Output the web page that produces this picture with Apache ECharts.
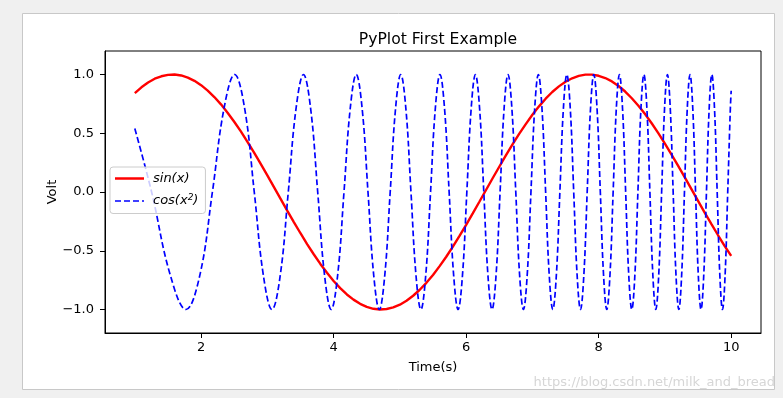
<!DOCTYPE html>
<html><head><meta charset="utf-8">
<script src="https://cdn.jsdelivr.net/npm/echarts@6/dist/echarts.min.js"></script>
<style>html,body{margin:0;padding:0;background:#f0f0f0;}#c{width:783px;height:398px;}</style>
</head><body><div id="c"></div>
<script>
// sin(x)
const sinX = [1.0,1.1,1.2,1.3,1.4,1.5,1.6,1.7,1.8,1.9,2.0,2.1,2.2,2.3,2.4,2.5,2.6,2.7,2.8,2.9,
  3.0,3.1,3.2,3.3,3.4,3.5,3.6,3.7,3.8,3.9,4.0,4.1,4.2,4.3,4.4,4.5,4.6,4.7,4.8,4.9,
  5.0,5.1,5.2,5.3,5.4,5.5,5.6,5.7,5.8,5.9,6.0,6.1,6.2,6.3,6.4,6.5,6.6,6.7,6.8,6.9,
  7.0,7.1,7.2,7.3,7.4,7.5,7.6,7.7,7.8,7.9,8.0,8.1,8.2,8.3,8.4,8.5,8.6,8.7,8.8,8.9,
  9.0,9.1,9.2,9.3,9.4,9.5,9.6,9.7,9.8,9.9,10.0];
const sinY = [0.841,0.891,0.932,0.964,0.985,0.997,1.000,0.992,0.974,0.946,
  0.909,0.863,0.808,0.746,0.675,0.598,0.516,0.427,0.335,0.239,
  0.141,0.042,-0.058,-0.158,-0.256,-0.351,-0.443,-0.530,-0.612,-0.688,
  -0.757,-0.818,-0.872,-0.916,-0.952,-0.978,-0.994,-1.000,-0.996,-0.982,
  -0.959,-0.926,-0.883,-0.832,-0.773,-0.706,-0.631,-0.551,-0.465,-0.374,
  -0.279,-0.182,-0.083,0.017,0.117,0.215,0.312,0.405,0.494,0.578,
  0.657,0.729,0.794,0.851,0.899,0.938,0.968,0.988,0.999,0.999,
  0.989,0.970,0.941,0.902,0.855,0.798,0.734,0.663,0.585,0.501,
  0.412,0.319,0.223,0.124,0.025,-0.075,-0.175,-0.272,-0.366,-0.458,-0.544];
// cos(x^2): points (peaks, troughs, crossings, half-way points)
const cosX = [1.0,
  1.2533,1.5350,1.7725,1.9817,2.1708,2.3447,2.5066,2.6587,
  2.8025,2.9393,3.0700,3.1953,3.3160,3.4324,3.5449,3.6540,
  3.7599,3.8630,3.9633,4.0612,4.1568,4.2502,4.3416,4.4312,
  4.5189,4.6050,4.6895,4.7725,4.8541,4.9343,5.0133,5.0910,
  5.1675,5.2430,5.3174,5.3907,5.4631,5.5345,5.6050,5.6746,
  5.7434,5.8114,5.8786,5.9450,6.0107,6.0757,6.1400,6.2036,
  6.2666,6.3289,6.3907,6.4518,6.5124,6.5724,6.6319,6.6909,
  6.7493,6.8072,6.8647,6.9217,6.9782,7.0342,7.0898,7.1450,
  7.1998,7.2541,7.3080,7.3616,7.4147,7.4675,7.5199,7.5719,
  7.6236,7.6749,7.7259,7.7766,7.8269,7.8769,7.9267,7.9760,
  8.0251,8.0739,8.1224,8.1706,8.2185,8.2662,8.3135,8.3606,
  8.4075,8.4541,8.5004,8.5465,8.5923,8.6379,8.6832,8.7283,
  8.7732,8.8179,8.8623,8.9064,8.9504,8.9942,9.0378,9.0811,
  9.1243,9.1672,9.2100,9.2525,9.2948,9.3370,9.3789,9.4207,
  9.4623,9.5037,9.5450,9.5860,9.6269,9.6676,9.7081,9.7485,
  9.7887,9.8287,9.8686,9.9083,9.9479,9.9873,
  10.0];
const cosY = [0.540,
  0,-0.707,-1,-0.707,0,0.707,1,0.707,
  0,-0.707,-1,-0.707,0,0.707,1,0.707,
  0,-0.707,-1,-0.707,0,0.707,1,0.707,
  0,-0.707,-1,-0.707,0,0.707,1,0.707,
  0,-0.707,-1,-0.707,0,0.707,1,0.707,
  0,-0.707,-1,-0.707,0,0.707,1,0.707,
  0,-0.707,-1,-0.707,0,0.707,1,0.707,
  0,-0.707,-1,-0.707,0,0.707,1,0.707,
  0,-0.707,-1,-0.707,0,0.707,1,0.707,
  0,-0.707,-1,-0.707,0,0.707,1,0.707,
  0,-0.707,-1,-0.707,0,0.707,1,0.707,
  0,-0.707,-1,-0.707,0,0.707,1,0.707,
  0,-0.707,-1,-0.707,0,0.707,1,0.707,
  0,-0.707,-1,-0.707,0,0.707,1,0.707,
  0,-0.707,-1,-0.707,0,0.707,1,0.707,
  0,-0.707,-1,-0.707,0,0.707,
  0.862];
const xTicks = [2,4,6,8,10];
const yTicks = [-1,-0.5,0,0.5,1];

const chart = echarts.init(document.getElementById('c'));
const font = 'DejaVu Sans';
const fmtY = v => (v < 0 ? '\u2212' : '') + Math.abs(v).toFixed(1);
chart.setOption({
  backgroundColor: '#f0f0f0',
  animation: false,
  textStyle: { fontFamily: font },
  graphic: [
    { type: 'rect', z: -10, silent: true, shape: { x: 22.5, y: 13.5, width: 752, height: 376 },
      style: { fill: '#ffffff', stroke: '#c8c8c8', lineWidth: 1 } },
    { type: 'text', right: 8, bottom: 9, z: 100, silent: true,
      style: { text: 'https://blog.csdn.net/milk_and_bread', fill: '#d6d6d6', font: '13px ' + font } }
  ],
  title: { text: 'PyPlot First Example', left: 433, textAlign: 'center', top: 27,
    textStyle: { fontFamily: font, fontSize: 15.6, fontWeight: 'normal', color: '#000' } },
  grid: { left: 105, right: 22, top: 51, bottom: 65, show: true, borderColor: '#000', borderWidth: 1 },
  legend: {
    orient: 'vertical', left: 110, top: 167, padding: [5, 7, 6, 5],
    backgroundColor: 'rgba(255,255,255,0.8)', borderColor: '#cccccc', borderWidth: 1, borderRadius: 3,
    itemWidth: 29, itemHeight: 10, itemGap: 8,
    textStyle: { fontFamily: font, fontSize: 13, color: '#000',
      rich: { i: { fontStyle: 'italic', fontSize: 13, fontFamily: font, color: '#000' },
              p: { fontStyle: 'italic', fontSize: 13, fontFamily: font, color: '#000', padding: [0,0,0,4] },
              s: { fontStyle: 'italic', fontSize: 9, verticalAlign: 'top', padding: [0,0,7,0], fontFamily: font, color: '#000' } } },
    formatter: n => n === 'sin' ? '{p|sin(x)}' : '{p|cos(x}{s|2}{i|)}',
    data: [{ name: 'sin', icon: 'path://M0,0 L29,0 L29,2.5 L0,2.5 Z' }, { name: 'cos', icon: 'path://M0,0 L6,0 L6,1.7 L0,1.7 Z M9,0 L15,0 L15,1.7 L9,1.7 Z M18,0 L24,0 L24,1.7 L18,1.7 Z M27,0 L29,0 L29,1.7 L27,1.7 Z' }]
  },
  xAxis: {
    type: 'value', min: 0.55, max: 10.45,
    name: 'Time(s)', nameLocation: 'middle', nameGap: 28, nameMoveOverlap: false,
    nameTextStyle: { fontFamily: font, fontSize: 13, color: '#000' },
    axisLine: { show: true, onZero: false, lineStyle: { color: '#000', width: 1 } },
    axisTick: { show: true, length: 5, lineStyle: { color: '#000' }, customValues: xTicks },
    axisLabel: { customValues: xTicks, fontFamily: font, fontSize: 13, color: '#000', margin: 8 },
    splitLine: { show: false }
  },
  yAxis: {
    type: 'value', min: -1.2, max: 1.2,
    name: 'Volt', nameLocation: 'middle', nameGap: 46, nameRotate: 90, nameMoveOverlap: false,
    nameTextStyle: { fontFamily: font, fontSize: 13, color: '#000' },
    axisLine: { show: true, onZero: false, lineStyle: { color: '#000', width: 1 } },
    axisTick: { show: true, length: 5, lineStyle: { color: '#000' }, customValues: yTicks },
    axisLabel: { customValues: yTicks, formatter: fmtY, fontFamily: font, fontSize: 13, color: '#000', margin: 11 },
    splitLine: { show: false }
  },
  series: [
    { name: 'sin', type: 'line', data: sinX.map((x, i) => [x, sinY[i]]), smooth: false, symbol: 'none',
      color: '#ff0000', lineStyle: { color: '#ff0000', width: 2.4 } },
    { name: 'cos', type: 'line', data: cosX.map((x, i) => [x, cosY[i]]), smooth: 0.4, symbol: 'none',
      color: '#0000ff', lineStyle: { color: '#0000ff', width: 1.7, type: [6, 3] } }
  ]
});
</script></body></html>
